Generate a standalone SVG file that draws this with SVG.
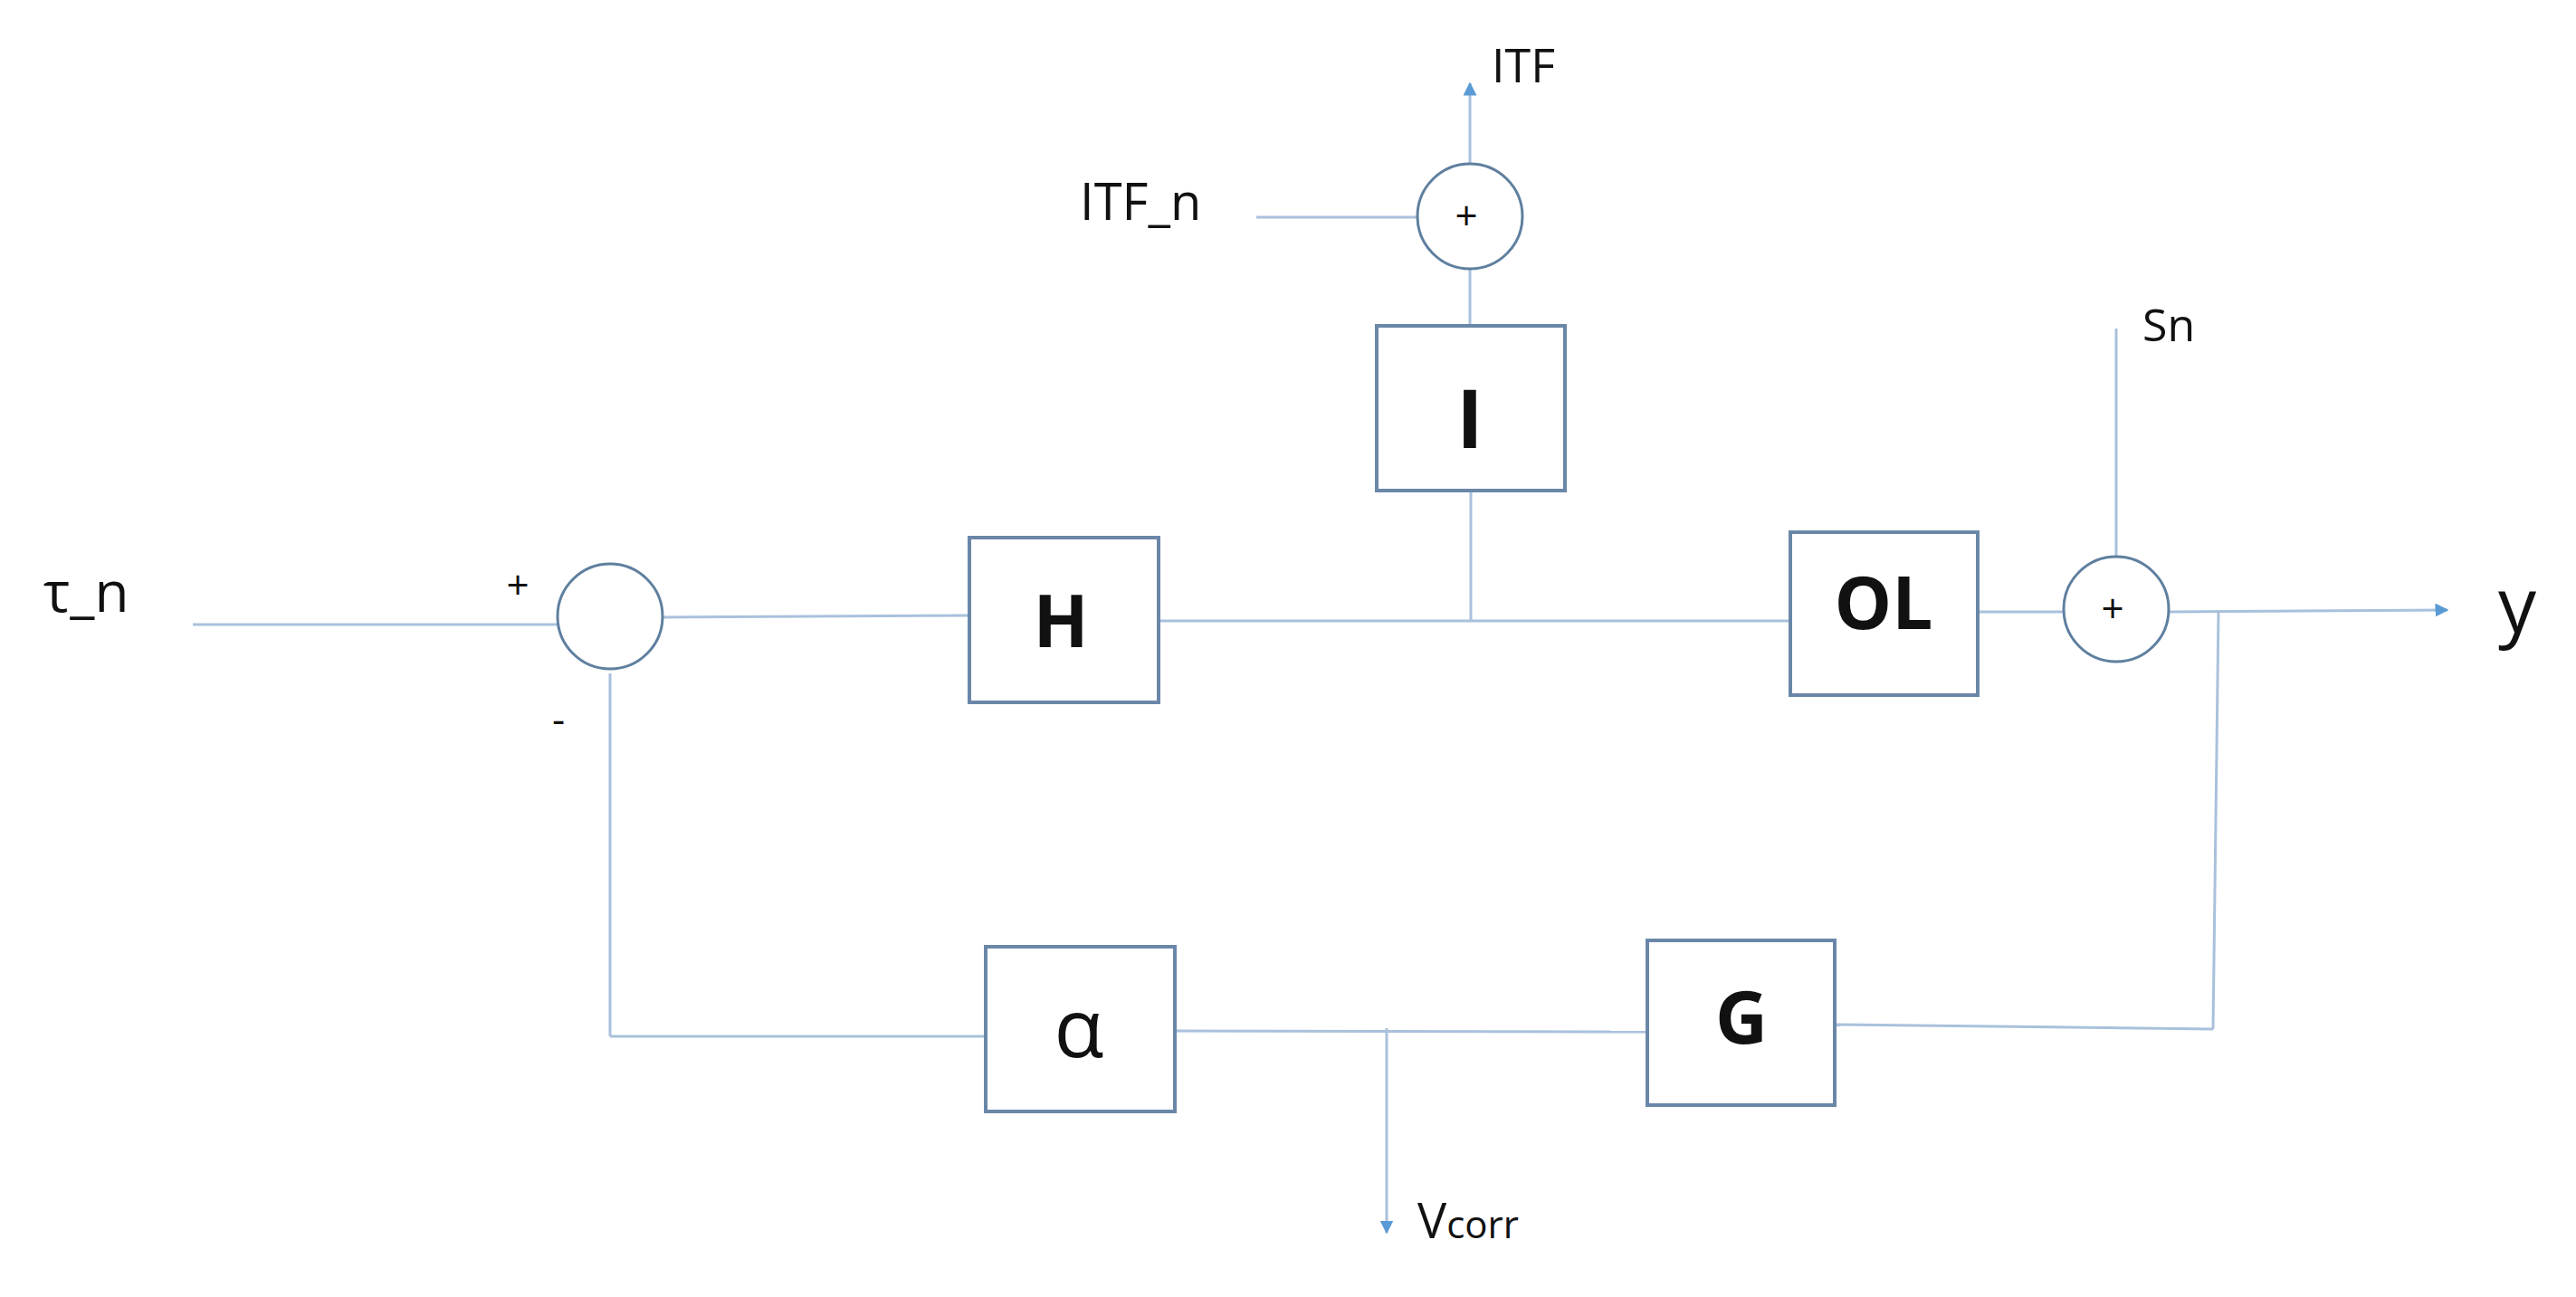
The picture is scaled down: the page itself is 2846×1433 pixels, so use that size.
<svg xmlns="http://www.w3.org/2000/svg" width="2846" height="1433" viewBox="0 0 2846 1433">
<defs>
<style>
.ln{stroke:#a9c1dc;stroke-width:3;fill:none}
.bx{stroke:#6a87a8;stroke-width:4;fill:#fff}
.cr{stroke:#5f7f9f;stroke-width:3;fill:#fff}
.t{font-family:"Open Sans","Liberation Sans",sans-serif;fill:#111}
.b{font-family:"Open Sans","Liberation Sans",sans-serif;font-weight:bold;fill:#111;text-anchor:middle}
</style>
<marker id="ar" viewBox="0 0 10 10" refX="9" refY="5" markerWidth="5" markerHeight="5" orient="auto"><path d="M0,0L10,5L0,10z" fill="#5b9bd5"/></marker>
</defs>
<rect width="2846" height="1433" fill="#fff"/>
<g id="connectors">
<line class="ln" x1="213" y1="690" x2="616" y2="690"/>
<line class="ln" x1="732" y1="682" x2="1071" y2="680"/>
<line class="ln" x1="1280" y1="686" x2="1978" y2="686"/>
<line class="ln" x1="1625" y1="542" x2="1625" y2="686"/>
<line class="ln" x1="1624" y1="360" x2="1624" y2="297"/>
<line class="ln" x1="1388" y1="240" x2="1566" y2="240"/>
<line class="ln" x1="1624" y1="181" x2="1624" y2="92" stroke="#5b9bd5" marker-end="url(#ar)"/>
<line class="ln" x1="2185" y1="676" x2="2280" y2="676"/>
<line class="ln" x1="2338" y1="363" x2="2338" y2="615"/>
<line class="ln" x1="2396" y1="676" x2="2704" y2="674" stroke="#7fa9d6" marker-end="url(#ar)"/>
<line class="ln" x1="2451" y1="676" x2="2445" y2="1137"/>
<line class="ln" x1="2445" y1="1137" x2="2027" y2="1132"/>
<line class="ln" x1="674" y1="744" x2="674" y2="1145"/>
<line class="ln" x1="674" y1="1145" x2="1089" y2="1145"/>
<line class="ln" x1="1298" y1="1139" x2="1820" y2="1140"/>
<line class="ln" x1="1532" y1="1136" x2="1532" y2="1362" stroke="#7fa9d6" marker-end="url(#ar)"/>
</g>
<g id="sum1"><circle class="cr" cx="674" cy="681" r="58"/>
<text class="t" x="572" y="662" font-size="44" text-anchor="middle">+</text>
<text class="t" x="617" y="810" font-size="44" text-anchor="middle">-</text></g>
<g id="sum2"><circle class="cr" cx="1624" cy="239" r="58"/><text class="t" x="1620" y="254" font-size="44" text-anchor="middle">+</text></g>
<g id="sum3"><circle class="cr" cx="2338" cy="673" r="58"/><text class="t" x="2334" y="688" font-size="44" text-anchor="middle">+</text></g>
<g id="H"><rect class="bx" x="1071" y="594" width="209" height="182"/><text class="b" x="1172" y="715" font-size="80">H</text></g>
<g id="I"><rect class="bx" x="1521" y="360" width="208" height="182"/><text class="b" x="1624" y="495" font-size="90">I</text></g>
<g id="OL"><rect class="bx" x="1978" y="588" width="207" height="180"/><text class="b" x="2081" y="695" font-size="80">OL</text></g>
<g id="alpha"><rect class="bx" x="1089" y="1046" width="209" height="182"/><text class="t" x="1192" y="1168" font-size="90" text-anchor="middle">α</text></g>
<g id="G"><rect class="bx" x="1820" y="1039" width="207" height="182"/><text class="b" x="1924" y="1153" font-size="80">G</text></g>
<g id="labels">
<text class="t" x="48" y="676" font-size="62">τ_n</text>
<text class="t" x="1193" y="243" font-size="56">ITF_n</text>
<text class="t" x="1648" y="91" font-size="52">ITF</text>
<text class="t" x="2367" y="377" font-size="50">Sn</text>
<text class="t" x="2760" y="699" font-size="84">y</text>
<text class="t" x="1566" y="1368" font-size="54">V<tspan font-size="42">corr</tspan></text>
</g>
</svg>
